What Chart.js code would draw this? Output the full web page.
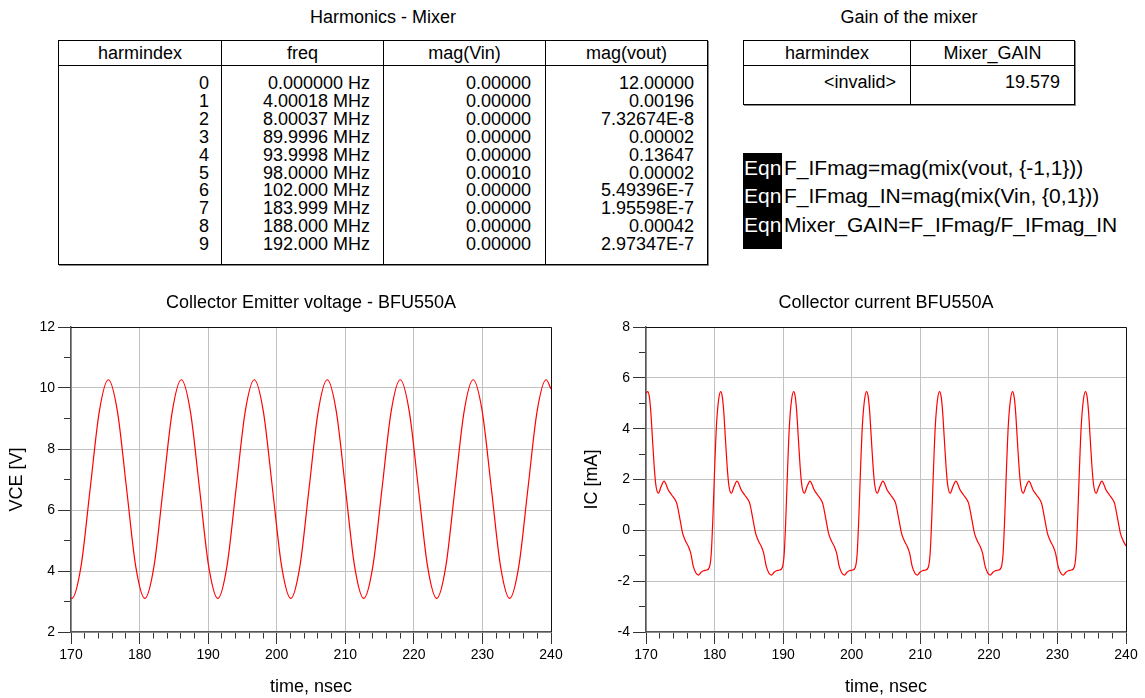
<!DOCTYPE html>
<html>
<head>
<meta charset="utf-8">
<title>Harmonics - Mixer</title>
<script src="https://cdn.jsdelivr.net/npm/chart.js@4.4.1/dist/chart.umd.min.js"></script>
<style>
  html, body { margin: 0; padding: 0; background: #fff; }
  body {
    width: 1145px; height: 698px; position: relative; overflow: hidden;
    font-family: "Liberation Sans", Arial, sans-serif; font-size: 18px; color: #000;
  }
  .caption { position: absolute; top: 5px; height: 24px; line-height: 24px; text-align: center; white-space: nowrap; }
  .tbl { position: absolute; box-sizing: border-box; border: 1px solid #000; box-shadow: 1px 1px 0 #888; }
  .col { position: absolute; top: 0; bottom: 0; box-sizing: border-box; }
  .col.sep { border-left: 1px solid #000; }
  .head { height: 24px; line-height: 24px; text-align: center; border-bottom: 1px solid #000; white-space: nowrap; }
  .cells { text-align: right; white-space: pre; line-height: 17.9px; }
  .eqnbox { position: absolute; left: 743px; top: 153px; width: 39px; height: 96px; background: #000; }
  .eqn { position: absolute; height: 28px; line-height: 28px; font-size: 21px; white-space: nowrap; }
  .eqn .tag { position: absolute; left: 0; color: #fff; }
  .eqn .txt { position: absolute; left: 40px; }
  canvas { position: absolute; top: 280px; }
</style>
</head>
<body>

<div class="caption" style="left:58px; width:650px;">Harmonics - Mixer</div>
<div class="tbl" id="harmTable" style="left:58px; top:40px; width:650px; height:225px;"></div>

<div class="caption" style="left:743px; width:332px;">Gain of the mixer</div>
<div class="tbl" id="gainTable" style="left:743px; top:40px; width:332px; height:65px;"></div>

<div class="eqnbox"></div>
<div id="eqns"></div>

<canvas id="vceChart" width="570" height="418" style="left:0px;"></canvas>
<canvas id="icChart" width="570" height="418" style="left:575px;"></canvas>

<script>
// Harmonics table
const harmIndex = [0, 1, 2, 3, 4, 5, 6, 7, 8, 9];
const freqLabels = ['0.000000 Hz', '4.00018 MHz', '8.00037 MHz', '89.9996 MHz', '93.9998 MHz',
    '98.0000 MHz', '102.000 MHz', '183.999 MHz', '188.000 MHz', '192.000 MHz'];
const magVin = ['0.00000', '0.00000', '0.00000', '0.00000', '0.00000',
    '0.00010', '0.00000', '0.00000', '0.00000', '0.00000'];
const magVout = ['12.00000', '0.00196', '7.32674E-8', '0.00002', '0.13647',
    '0.00002', '5.49396E-7', '1.95598E-7', '0.00042', '2.97347E-7'];

// Gain table
const gainIndex = ['<invalid>'];
const mixerGain = ['19.579'];

const equations = [
    'F_IFmag=mag(mix(vout, {-1,1}))',
    'F_IFmag_IN=mag(mix(Vin, {0,1}))',
    'Mixer_GAIN=F_IFmag/F_IFmag_IN'
];

// Collector emitter voltage, time in nsec
const vceTime = [170.00, 170.13, 171.46, 172.79, 174.12, 175.45, 176.78, 178.11, 179.44,
    180.77, 182.10, 183.43, 184.76, 186.09, 187.42, 188.75, 190.08,
    191.41, 192.74, 194.07, 195.40, 196.73, 198.06, 199.39, 200.72,
    202.05, 203.38, 204.71, 206.04, 207.37, 208.70, 210.03, 211.36,
    212.69, 214.02, 215.35, 216.68, 218.01, 219.34, 220.67, 222.00,
    223.33, 224.66, 225.99, 227.32, 228.65, 229.98, 231.31, 232.64,
    233.97, 235.30, 236.63, 237.96, 239.29, 240.00];
const vceValues = [3.11, 3.10, 4.15, 6.69, 9.22, 10.27, 9.22, 6.69, 4.15,
    3.10, 4.15, 6.69, 9.22, 10.27, 9.22, 6.69, 4.15,
    3.10, 4.15, 6.69, 9.22, 10.27, 9.22, 6.69, 4.15,
    3.10, 4.15, 6.69, 9.22, 10.27, 9.22, 6.69, 4.15,
    3.10, 4.15, 6.69, 9.22, 10.27, 9.22, 6.69, 4.15,
    3.10, 4.15, 6.69, 9.22, 10.27, 9.22, 6.69, 4.15,
    3.10, 4.15, 6.69, 9.22, 10.27, 9.97];

// Collector current, time in nsec
const icTime = [170.00,
    170.25, 170.49, 170.69, 170.93, 171.17, 171.42, 171.81, 172.20, 172.63, 173.25,
    173.75, 174.25, 174.50, 174.97, 175.35, 175.70, 176.18, 176.52, 176.91, 177.30,
    177.64, 178.03, 178.37, 178.85, 179.25, 179.52, 179.77, 180.02, 180.27, 180.57,
    180.89, 181.13, 181.33, 181.57, 181.81, 182.06, 182.45, 182.84, 183.27, 183.89,
    184.39, 184.89, 185.14, 185.61, 185.99, 186.34, 186.82, 187.16, 187.55, 187.94,
    188.28, 188.67, 189.01, 189.49, 189.89, 190.16, 190.41, 190.66, 190.91, 191.21,
    191.53, 191.77, 191.97, 192.21, 192.45, 192.70, 193.09, 193.48, 193.91, 194.53,
    195.03, 195.53, 195.78, 196.25, 196.63, 196.98, 197.46, 197.80, 198.19, 198.58,
    198.92, 199.31, 199.65, 200.13, 200.53, 200.80, 201.05, 201.30, 201.55, 201.85,
    202.17, 202.41, 202.61, 202.85, 203.09, 203.34, 203.73, 204.12, 204.55, 205.17,
    205.67, 206.17, 206.42, 206.89, 207.27, 207.62, 208.10, 208.44, 208.83, 209.22,
    209.56, 209.95, 210.29, 210.77, 211.17, 211.44, 211.69, 211.94, 212.19, 212.49,
    212.81, 213.05, 213.25, 213.49, 213.73, 213.98, 214.37, 214.76, 215.19, 215.81,
    216.31, 216.81, 217.06, 217.53, 217.91, 218.26, 218.74, 219.08, 219.47, 219.86,
    220.20, 220.59, 220.93, 221.41, 221.81, 222.08, 222.33, 222.58, 222.83, 223.13,
    223.45, 223.69, 223.89, 224.13, 224.37, 224.62, 225.01, 225.40, 225.83, 226.45,
    226.95, 227.45, 227.70, 228.17, 228.55, 228.90, 229.38, 229.72, 230.11, 230.50,
    230.84, 231.23, 231.57, 232.05, 232.45, 232.72, 232.97, 233.22, 233.47, 233.77,
    234.09, 234.33, 234.53, 234.77, 235.01, 235.26, 235.65, 236.04, 236.47, 237.09,
    237.59, 238.09, 238.34, 238.81, 239.19, 239.54, 240.00];
const icValues = [5.39,
    5.46, 5.25, 4.70, 3.66, 2.61, 1.82, 1.46, 1.72, 1.94, 1.59,
    1.39, 1.20, 1.05, 0.41, -0.12, -0.38, -0.64, -0.90, -1.43, -1.69,
    -1.76, -1.65, -1.59, -1.56, -1.45, -0.90, 0.60, 2.50, 4.10, 5.10,
    5.46, 5.25, 4.70, 3.66, 2.61, 1.82, 1.46, 1.72, 1.94, 1.59,
    1.39, 1.20, 1.05, 0.41, -0.12, -0.38, -0.64, -0.90, -1.43, -1.69,
    -1.76, -1.65, -1.59, -1.56, -1.45, -0.90, 0.60, 2.50, 4.10, 5.10,
    5.46, 5.25, 4.70, 3.66, 2.61, 1.82, 1.46, 1.72, 1.94, 1.59,
    1.39, 1.20, 1.05, 0.41, -0.12, -0.38, -0.64, -0.90, -1.43, -1.69,
    -1.76, -1.65, -1.59, -1.56, -1.45, -0.90, 0.60, 2.50, 4.10, 5.10,
    5.46, 5.25, 4.70, 3.66, 2.61, 1.82, 1.46, 1.72, 1.94, 1.59,
    1.39, 1.20, 1.05, 0.41, -0.12, -0.38, -0.64, -0.90, -1.43, -1.69,
    -1.76, -1.65, -1.59, -1.56, -1.45, -0.90, 0.60, 2.50, 4.10, 5.10,
    5.46, 5.25, 4.70, 3.66, 2.61, 1.82, 1.46, 1.72, 1.94, 1.59,
    1.39, 1.20, 1.05, 0.41, -0.12, -0.38, -0.64, -0.90, -1.43, -1.69,
    -1.76, -1.65, -1.59, -1.56, -1.45, -0.90, 0.60, 2.50, 4.10, 5.10,
    5.46, 5.25, 4.70, 3.66, 2.61, 1.82, 1.46, 1.72, 1.94, 1.59,
    1.39, 1.20, 1.05, 0.41, -0.12, -0.38, -0.64, -0.90, -1.43, -1.69,
    -1.76, -1.65, -1.59, -1.56, -1.45, -0.90, 0.60, 2.50, 4.10, 5.10,
    5.46, 5.25, 4.70, 3.66, 2.61, 1.82, 1.46, 1.72, 1.94, 1.59,
    1.39, 1.20, 1.05, 0.41, -0.12, -0.38, -0.62];

function escapeHtml(s) {
    return String(s).replace(/&/g, '&amp;').replace(/</g, '&lt;').replace(/>/g, '&gt;');
}

function buildTable(el, headers, columns, widths, padRight, padTop) {
    let left = 0;
    el.innerHTML = headers.map((h, i) => {
        const html = `
            <div class="col${i > 0 ? ' sep' : ''}" style="left:${left}px; width:${widths[i]}px;">
                <div class="head">${escapeHtml(h)}</div>
                <div class="cells" style="padding-right:${padRight[i]}px; padding-top:${padTop}px;">${columns[i].map(escapeHtml).join('\n')}</div>
            </div>`;
        left += widths[i];
        return html;
    }).join('');
}

buildTable(document.getElementById('harmTable'),
    ['harmindex', 'freq', 'mag(Vin)', 'mag(vout)'],
    [harmIndex, freqLabels, magVin, magVout],
    [162, 162, 162, 162], [12, 13, 14, 13], 9);

buildTable(document.getElementById('gainTable'),
    ['harmindex', 'Mixer_GAIN'],
    [gainIndex, mixerGain],
    [166, 164], [14, 14], 8);

document.getElementById('eqns').innerHTML = equations.map((e, i) => `
    <div class="eqn" style="left:744px; top:${154 + i * 28.3}px;">
        <span class="tag">Eqn</span><span class="txt">${escapeHtml(e)}</span>
    </div>`).join('');

// Charts
Chart.defaults.font.family = '"Liberation Sans", Arial, sans-serif';
Chart.defaults.color = '#000';

const framePlugin = {
    id: 'frame',
    afterDatasetsDraw(chart) {
        const { ctx, chartArea: a } = chart;
        ctx.save();
        ctx.strokeStyle = '#111';
        ctx.lineWidth = 1;
        ctx.beginPath();
        ctx.moveTo(a.left, Math.round(a.top) + 0.5);
        ctx.lineTo(Math.round(a.right) + 0.5, Math.round(a.top) + 0.5);
        ctx.lineTo(Math.round(a.right) + 0.5, a.bottom);
        ctx.stroke();
        ctx.restore();
    }
};

function isMajor(value, step) {
    return Math.round(value) % step === 0;
}

function makeChart(id, time, values, yMin, yMax, yTitle, title) {
    return new Chart(document.getElementById(id), {
        type: 'line',
        data: {
            datasets: [{
                data: time.map((t, i) => ({ x: t, y: values[i] })),
                borderColor: '#ff0000',
                borderWidth: 1.2,
                pointRadius: 0,
                cubicInterpolationMode: 'monotone',
                fill: false
            }]
        },
        options: {
            responsive: false,
            animation: false,
            devicePixelRatio: 1,
            layout: { padding: { top: 0, left: 0, bottom: 0, right: 19 } },
            plugins: {
                legend: { display: false },
                tooltip: { enabled: false },
                title: {
                    display: true,
                    text: title,
                    fullSize: false,
                    color: '#000',
                    font: { size: 18, weight: 'normal', lineHeight: 1.2 },
                    padding: { top: 12, bottom: 13.4 }
                }
            },
            scales: {
                x: {
                    type: 'linear',
                    min: 170,
                    max: 240,
                    afterFit: (scale) => { scale.height = 66; },
                    ticks: {
                        stepSize: 2,
                        autoSkip: false,
                        maxRotation: 0,
                        padding: 3,
                        font: { size: 14 },
                        color: '#000',
                        callback: (v) => isMajor(v, 10) ? String(Math.round(v)) : ''
                    },
                    grid: {
                        color: (c) => c.tick && isMajor(c.tick.value, 10) ? '#c2c2c2' : 'rgba(0,0,0,0)',
                        lineWidth: 1,
                        tickLength: 12,
                        tickColor: '#333',
                        tickWidth: 1,
                        tickBorderDash: (c) => c.tick && isMajor(c.tick.value, 10) ? [] : [6, 100],
                        tickBorderDashOffset: 0
                    },
                    border: { display: true, color: '#555', width: 1.5 },
                    title: {
                        display: true,
                        text: 'time, nsec',
                        color: '#000',
                        font: { size: 18, lineHeight: 1.2 },
                        padding: { top: 4, bottom: 0.5 }
                    }
                },
                y: {
                    min: yMin,
                    max: yMax,
                    afterFit: (scale) => { scale.width = 71; },
                    ticks: {
                        stepSize: 1,
                        autoSkip: false,
                        padding: 3,
                        font: { size: 14 },
                        color: '#000',
                        callback: (v) => isMajor(v, 2) ? String(Math.round(v)) : ''
                    },
                    grid: {
                        color: (c) => c.tick && isMajor(c.tick.value, 2) ? '#c2c2c2' : 'rgba(0,0,0,0)',
                        lineWidth: 1,
                        tickLength: 13,
                        tickColor: '#333',
                        tickWidth: 1,
                        tickBorderDash: (c) => c.tick && isMajor(c.tick.value, 2) ? [] : [7, 6],
                        tickBorderDashOffset: (c) => c.tick && isMajor(c.tick.value, 2) ? 0 : 7
                    },
                    border: { display: true, color: '#555', width: 1.5 },
                    title: {
                        display: true,
                        text: yTitle,
                        color: '#000',
                        font: { size: 18, lineHeight: 1.2 },
                        padding: { top: 6, bottom: 0 }
                    }
                }
            }
        },
        plugins: [framePlugin]
    });
}

makeChart('vceChart', vceTime, vceValues, 2, 12, 'VCE [V]', 'Collector Emitter voltage - BFU550A');
makeChart('icChart', icTime, icValues, -4, 8, 'IC [mA]', 'Collector current BFU550A');
</script>
</body>
</html>
